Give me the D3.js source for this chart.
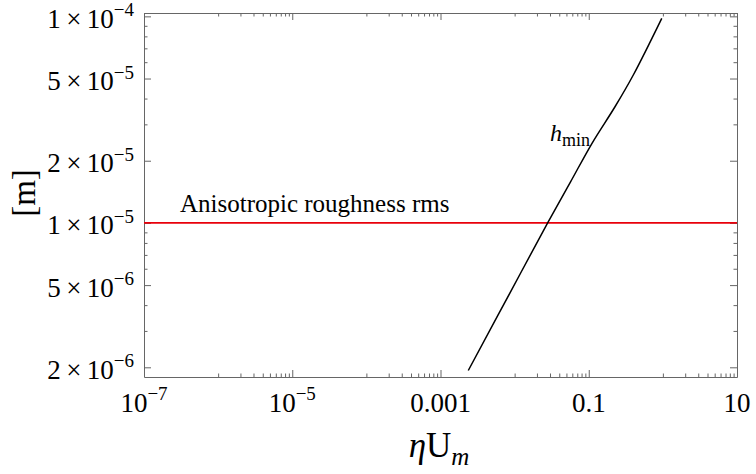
<!DOCTYPE html>
<html><head><meta charset="utf-8">
<script src="https://cdn.jsdelivr.net/npm/d3@7"></script>
<style>
body{margin:0;background:#fff}
svg{display:block}
text{font-family:"Liberation Serif","Times New Roman",serif;fill:#000}
</style>
</head><body>
<svg id="chart" width="756" height="474"></svg>
<script>
// ---- data ----
const curveX = [0.00237, 0.01196, 0.0279, 0.0568, 0.1107, 0.226, 0.399, 0.966];
const curveY = [1.93e-6, 5.69e-6, 1.0e-5, 1.58e-5, 2.43e-5, 3.65e-5, 5.20e-5, 9.78e-5];
const roughnessRms = 1e-5;
const xTickValues = [1e-7, 1e-5, 1e-3, 1e-1, 10];
const xTickLabels = ["10^−7", "10^−5", "0.001", "0.1", "10"];
const xMinorValues = [1e-6,2e-6,3e-6,4e-6,5e-6,6e-6,7e-6,8e-6,9e-6,
                      1e-4,2e-4,3e-4,4e-4,5e-4,6e-4,7e-4,8e-4,9e-4,
                      1e-2,2e-2,3e-2,4e-2,5e-2,6e-2,7e-2,8e-2,9e-2,
                      1,2,3,4,5,6,7,8,9];
const yTickValues = [2e-6, 5e-6, 1e-5, 2e-5, 5e-5, 1e-4];
const yTickLabels = ["2\u2009×\u200910^−6", "5\u2009×\u200910^−6", "1\u2009×\u200910^−5",
                     "2\u2009×\u200910^−5", "5\u2009×\u200910^−5", "1\u2009×\u200910^−4"];
const yMinorValues = [3e-6,4e-6,6e-6,7e-6,8e-6,9e-6,3e-5,4e-5,6e-5,7e-5,8e-5,9e-5];
const xDomain = [1e-7, 10];
const yDomain = [1.795e-6, 1.038e-4];

// ---- layout ----
const FONT = "'Liberation Serif','Times New Roman',serif";
const L = 144, R = 737, T = 13, B = 377;
const svg = d3.select("#chart");
const x = d3.scaleLog().domain(xDomain).range([L, R]);
const y = d3.scaleLog().domain(yDomain).range([B, T]);
const frameColor = "#666";

function styleAxis(g, keepDomain) {
  g.selectAll("path.domain").attr("stroke", keepDomain ? frameColor : "none").attr("stroke-width", 1);
  g.selectAll(".tick line").attr("stroke", frameColor).attr("stroke-width", 1);
  g.selectAll(".tick text").remove();
}

// major axes (frame)
svg.append("g").attr("transform", `translate(0,${B})`)
  .call(d3.axisBottom(x).tickValues(xTickValues).tickSizeInner(-7).tickSizeOuter(0).tickFormat(""))
  .call(g => styleAxis(g, true));
svg.append("g").attr("transform", `translate(0,${T})`)
  .call(d3.axisTop(x).tickValues(xTickValues).tickSizeInner(-7).tickSizeOuter(0).tickFormat(""))
  .call(g => styleAxis(g, true));
svg.append("g").attr("transform", `translate(${L},0)`)
  .call(d3.axisLeft(y).tickValues(yTickValues).tickSizeInner(-7).tickSizeOuter(0).tickFormat(""))
  .call(g => styleAxis(g, true));
svg.append("g").attr("transform", `translate(${R},0)`)
  .call(d3.axisRight(y).tickValues(yTickValues).tickSizeInner(-7).tickSizeOuter(0).tickFormat(""))
  .call(g => styleAxis(g, true));
// minor ticks
svg.append("g").attr("transform", `translate(0,${B})`)
  .call(d3.axisBottom(x).tickValues(xMinorValues).tickSizeInner(-3.5).tickSizeOuter(0).tickFormat(""))
  .call(g => styleAxis(g, false));
svg.append("g").attr("transform", `translate(0,${T})`)
  .call(d3.axisTop(x).tickValues(xMinorValues).tickSizeInner(-3.5).tickSizeOuter(0).tickFormat(""))
  .call(g => styleAxis(g, false));
svg.append("g").attr("transform", `translate(${L},0)`)
  .call(d3.axisLeft(y).tickValues(yMinorValues).tickSizeInner(-3.5).tickSizeOuter(0).tickFormat(""))
  .call(g => styleAxis(g, false));
svg.append("g").attr("transform", `translate(${R},0)`)
  .call(d3.axisRight(y).tickValues(yMinorValues).tickSizeInner(-3.5).tickSizeOuter(0).tickFormat(""))
  .call(g => styleAxis(g, false));

// tick labels with superscripts
function powLabel(sel, label, supSize, supDy) {
  const parts = label.split("^");
  sel.append("tspan").text(parts[0]);
  if (parts.length > 1) sel.append("tspan").attr("font-size", supSize).attr("dy", supDy).text(parts[1]);
}
xTickValues.forEach((v, i) => {
  const t = svg.append("text").attr("x", x(v)).attr("y", 411.5).attr("font-family", FONT)
    .attr("text-anchor", "middle").attr("font-size", 27);
  powLabel(t, xTickLabels[i], 19, -11.5);
});
yTickValues.forEach((v, i) => {
  const t = svg.append("text").attr("x", 134).attr("y", y(v) + 11.5).attr("font-family", FONT)
    .attr("text-anchor", "end").attr("font-size", 27);
  powLabel(t, yTickLabels[i], 19, -11.5);
});

// red reference line
svg.append("line")
  .attr("x1", x(xDomain[0])).attr("x2", x(xDomain[1]))
  .attr("y1", y(roughnessRms)).attr("y2", y(roughnessRms))
  .attr("stroke", "#e8000b").attr("stroke-width", 1.6);

// h_min curve
const line = d3.line().x(d => x(d[0])).y(d => y(d[1])).curve(d3.curveCatmullRom.alpha(0.5));
svg.append("path")
  .datum(curveX.map((v, i) => [v, curveY[i]]))
  .attr("d", line).attr("fill", "none").attr("stroke", "#000").attr("stroke-width", 1.5);

// annotations
svg.append("text").attr("x", 180).attr("y", 211.5).attr("font-size", 25).attr("font-family", FONT)
  .text("Anisotropic roughness rms");
const hl = svg.append("text").attr("x", 550).attr("y", 141).attr("font-size", 24).attr("font-family", FONT);
hl.append("tspan").attr("font-style", "italic").text("h");
hl.append("tspan").attr("font-size", 18).attr("dy", 4.5).text("min");

// axis titles
const xt = svg.append("text").attr("x", 439).attr("y", 457).attr("text-anchor", "middle")
  .attr("font-size", 35).attr("font-family", FONT);
xt.append("tspan").attr("font-style", "italic").text("η");
xt.append("tspan").text("U");
xt.append("tspan").attr("font-style", "italic").attr("font-size", 25).attr("dy", 8).text("m");

svg.append("text").attr("transform", "translate(35,193) rotate(-90)").attr("font-family", FONT)
  .attr("text-anchor", "middle").attr("font-size", 33).text("[m]");
</script>
</body></html>
